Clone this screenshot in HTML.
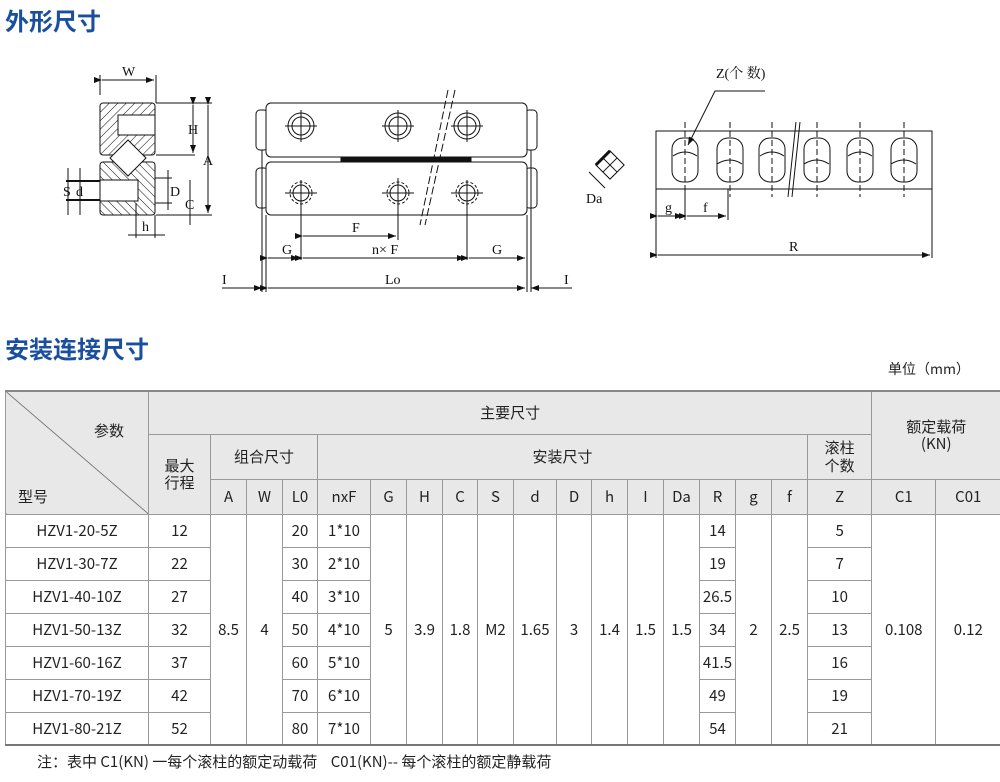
<!DOCTYPE html>
<html><head><meta charset="utf-8"><style>
body{margin:0;width:1000px;height:782px;background:#fff;position:relative;overflow:hidden;font-family:"Liberation Sans","Noto Sans CJK SC",sans-serif;color:#222}
.h{position:absolute;left:5px;color:#1a4fa0;font-weight:bold;font-size:24px;font-family:"Noto Sans CJK SC",sans-serif;line-height:1}
table{position:absolute;left:5px;top:390px;width:995px;border-collapse:collapse;table-layout:fixed;font-size:15px}
td{border:1px solid #999;text-align:center;padding:0;font-family:"Noto Sans CJK SC","Liberation Sans",sans-serif;line-height:1.15}
.g td,td.g{background:#e8e8e8}
table{border-top:2px solid #888;border-bottom:2px solid #777}
</style></head><body>
<div class="h" style="top:8px">外形尺寸</div>
<div class="h" style="top:336px">安装连接尺寸</div>
<div style="position:absolute;left:888px;top:359px;font-size:14px;font-family:'Noto Sans CJK SC',sans-serif">单位（mm）</div>

<svg style="position:absolute;left:0;top:0" width="1000" height="300" font-family="Liberation Serif,serif" font-size="14" stroke="#111" fill="none" stroke-width="1">
<defs><pattern id="ht" width="6" height="6" patternUnits="userSpaceOnUse" patternTransform="rotate(45)"><line x1="0" y1="0" x2="0" y2="6" stroke="#111" stroke-width="1"/></pattern>
<pattern id="ht2" width="6" height="6" patternUnits="userSpaceOnUse" patternTransform="rotate(-45)"><line x1="0" y1="0" x2="0" y2="6" stroke="#111" stroke-width="1"/></pattern>
<marker id="a" markerWidth="8" markerHeight="6" refX="8" refY="3" orient="auto"><path d="M0,0L8,3L0,6z" fill="#111" stroke="none"/></marker></defs>
<!-- left section -->
<rect x="100" y="103" width="55" height="52" rx="3" fill="url(#ht)"/>
<rect x="118" y="115" width="37" height="20" fill="#fff"/>
<rect x="100" y="162" width="55" height="53" rx="3" fill="url(#ht2)"/>
<rect x="100" y="180" width="38" height="21" fill="#fff"/>
<path d="M128,140L146,158L128,176L110,158Z" fill="#fff"/>
<line x1="100" y1="95" x2="100" y2="75"/><line x1="156" y1="103" x2="156" y2="75"/>
<line x1="102" y1="80" x2="154" y2="80" marker-start="url(#a)" marker-end="url(#a)"/>
<text x="122" y="76" fill="#111" stroke="none">W</text>
<line x1="156" y1="103" x2="212" y2="103"/><line x1="156" y1="155" x2="195" y2="155"/><line x1="156" y1="215" x2="212" y2="215"/>
<line x1="193" y1="105" x2="193" y2="153" marker-start="url(#a)" marker-end="url(#a)"/><text x="188" y="134" fill="#111" stroke="none">H</text>
<line x1="208" y1="105" x2="208" y2="213" marker-start="url(#a)" marker-end="url(#a)"/><text x="203" y="165" fill="#111" stroke="none">A</text>
<line x1="155" y1="178" x2="172" y2="178"/><line x1="155" y1="203" x2="172" y2="203"/>
<line x1="168" y1="170" x2="168" y2="210"/><text x="170" y="196" fill="#111" stroke="none">D</text>
<line x1="190" y1="180" x2="190" y2="225"/><text x="185" y="209" fill="#111" stroke="none">C</text>
<line x1="68" y1="168" x2="68" y2="215"/><line x1="80" y1="168" x2="80" y2="215"/>
<line x1="66" y1="181" x2="100" y2="181" stroke-width="2"/><line x1="66" y1="200" x2="100" y2="200" stroke-width="2"/>
<text x="63" y="196" fill="#111" stroke="none">S</text><text x="76" y="196" fill="#111" stroke="none">d</text>
<line x1="136" y1="203" x2="136" y2="238"/><line x1="155" y1="215" x2="155" y2="238"/>
<line x1="128" y1="235" x2="165" y2="235"/><text x="142" y="231" fill="#111" stroke="none">h</text>
<!-- middle -->
<rect x="256" y="110" width="12" height="40" rx="4"/><rect x="525" y="110" width="12" height="40" rx="4"/>
<rect x="266" y="103" width="261" height="54" rx="5" fill="#fff"/>
<rect x="256" y="168" width="12" height="40" rx="4"/><rect x="525" y="168" width="12" height="40" rx="4"/>
<rect x="266" y="162" width="261" height="53" rx="5" fill="#fff"/>
<rect x="341" y="157" width="130" height="5" fill="#111"/>
<g><circle cx="301" cy="126" r="13"/><circle cx="301" cy="126" r="9"/><circle cx="398" cy="126" r="13"/><circle cx="398" cy="126" r="9"/><circle cx="467" cy="126" r="13"/><circle cx="467" cy="126" r="9"/>
<circle cx="301" cy="193" r="11" stroke-dasharray="3 2"/><circle cx="301" cy="193" r="8"/><circle cx="398" cy="193" r="11" stroke-dasharray="3 2"/><circle cx="398" cy="193" r="8"/><circle cx="467" cy="193" r="11" stroke-dasharray="3 2"/><circle cx="467" cy="193" r="8"/>
<path d="M285,126h32M301,110v32M382,126h32M398,110v32M451,126h32M467,110v32M285,193h32M398,178v15M382,193h32M451,193h32"/></g>
<path d="M448,90L420,225M455,90L425,225" stroke-dasharray="8 3"/>
<line x1="301" y1="180" x2="301" y2="260"/><line x1="398" y1="180" x2="398" y2="240"/><line x1="467" y1="180" x2="467" y2="260"/>
<line x1="303" y1="236" x2="396" y2="236" marker-start="url(#a)" marker-end="url(#a)"/><text x="352" y="232" fill="#111" stroke="none">F</text>
<line x1="262" y1="150" x2="262" y2="292"/><line x1="266" y1="215" x2="266" y2="292"/><line x1="527" y1="215" x2="527" y2="292"/><line x1="531" y1="150" x2="531" y2="292"/>
<line x1="268" y1="258" x2="299" y2="258" marker-start="url(#a)" marker-end="url(#a)"/><text x="282" y="254" fill="#111" stroke="none">G</text>
<line x1="303" y1="258" x2="465" y2="258" marker-start="url(#a)" marker-end="url(#a)"/><text x="372" y="254" fill="#111" stroke="none">n× F</text>
<line x1="469" y1="258" x2="525" y2="258" marker-start="url(#a)" marker-end="url(#a)"/><text x="492" y="254" fill="#111" stroke="none">G</text>
<line x1="268" y1="288" x2="525" y2="288" marker-start="url(#a)" marker-end="url(#a)"/><text x="385" y="284" fill="#111" stroke="none">Lo</text>
<line x1="222" y1="288" x2="262" y2="288" marker-end="url(#a)"/><text x="222" y="284" fill="#111" stroke="none">I</text>
<line x1="572" y1="288" x2="531" y2="288" marker-end="url(#a)"/><text x="564" y="284" fill="#111" stroke="none">I</text>
<!-- right -->
<g transform="rotate(-45 610 165)"><rect x="600" y="155" width="20" height="20"/><path d="M600,165h20M610,155v20"/><line x1="600" y1="155" x2="620" y2="155" stroke-width="3"/></g>
<line x1="589" y1="172" x2="605" y2="188"/><text x="586" y="203" fill="#111" stroke="none">Da</text>
<rect x="656" y="131" width="276" height="58"/>
<g>
<rect x="672" y="138" width="26" height="44" rx="11"/><rect x="717" y="138" width="26" height="44" rx="11"/><rect x="759" y="138" width="26" height="44" rx="11"/>
<rect x="804" y="138" width="26" height="44" rx="11"/><rect x="847" y="138" width="26" height="44" rx="11"/><rect x="891" y="138" width="26" height="44" rx="11"/>
<path d="M673,156q12,-8 24,0M717,164q13,-8 25,0M760,156q12,-8 24,0M804,164q13,-8 25,0M848,156q12,-8 24,0M891,164q13,-8 25,0"/>
<path d="M685,122v75M730,122v75M772,122v75M817,122v75M860,122v75M904,122v75" stroke-dasharray="6 3"/>
<path d="M796,122L788,197M800,122L792,197" />
</g>
<text x="716" y="78" fill="#111" stroke="none" font-family="Liberation Serif,Noto Serif CJK SC,serif">Z(个 数)</text>
<path d="M765,91H715L688,145" marker-end="url(#a)"/>
<line x1="656" y1="189" x2="656" y2="258"/><line x1="685" y1="189" x2="685" y2="220"/><line x1="728" y1="189" x2="728" y2="220"/><line x1="932" y1="189" x2="932" y2="258"/>
<line x1="658" y1="216" x2="683" y2="216" marker-start="url(#a)" marker-end="url(#a)"/><text x="665" y="212" fill="#111" stroke="none">g</text>
<line x1="687" y1="216" x2="726" y2="216" marker-start="url(#a)" marker-end="url(#a)"/><text x="703" y="212" fill="#111" stroke="none">f</text>
<line x1="658" y1="255" x2="930" y2="255" marker-start="url(#a)" marker-end="url(#a)"/><text x="789" y="251" fill="#111" stroke="none">R</text>
</svg>

<table>
<colgroup><col style="width:143px"><col style="width:62px"><col style="width:36px"><col style="width:36px"><col style="width:35px"><col style="width:53px"><col style="width:36px"><col style="width:36px"><col style="width:35px"><col style="width:36px"><col style="width:43px"><col style="width:35px"><col style="width:36px"><col style="width:36px"><col style="width:36px"><col style="width:36px"><col style="width:36px"><col style="width:36px"><col style="width:64px"><col style="width:64px"><col style="width:65px"></colgroup>
<tr class="g" style="height:43px"><td rowspan="3" style="position:relative;background:#e8e8e8 linear-gradient(to bottom left,transparent calc(50% - 0.7px),#555 50%,transparent calc(50% + 0.7px))"><span style="position:absolute;left:88px;top:30px">参数</span><span style="position:absolute;left:12px;top:96px">型号</span></td>
<td colspan="18">主要尺寸</td><td colspan="2" rowspan="2">额定载荷<br>(KN)</td></tr>
<tr class="g" style="height:45px"><td rowspan="2">最大<br>行程</td><td colspan="3">组合尺寸</td><td colspan="13">安装尺寸</td><td>滚柱<br>个数</td></tr>
<tr class="g" style="height:35px"><td>A</td><td>W</td><td>L0</td><td>nxF</td><td>G</td><td>H</td><td>C</td><td>S</td><td>d</td><td>D</td><td>h</td><td>I</td><td>Da</td><td>R</td><td>g</td><td>f</td><td>Z</td><td>C1</td><td>C01</td></tr>
<tr style="height:33px"><td>HZV1-20-5Z</td><td>12</td><td rowspan="7">8.5</td><td rowspan="7">4</td><td>20</td><td>1*10</td><td rowspan="7">5</td><td rowspan="7">3.9</td><td rowspan="7">1.8</td><td rowspan="7">M2</td><td rowspan="7">1.65</td><td rowspan="7">3</td><td rowspan="7">1.4</td><td rowspan="7">1.5</td><td rowspan="7">1.5</td><td>14</td><td rowspan="7">2</td><td rowspan="7">2.5</td><td>5</td><td rowspan="7">0.108</td><td rowspan="7">0.12</td></tr>
<tr style="height:33px"><td>HZV1-30-7Z</td><td>22</td><td>30</td><td>2*10</td><td>19</td><td>7</td></tr>
<tr style="height:33px"><td>HZV1-40-10Z</td><td>27</td><td>40</td><td>3*10</td><td>26.5</td><td>10</td></tr>
<tr style="height:33px"><td>HZV1-50-13Z</td><td>32</td><td>50</td><td>4*10</td><td>34</td><td>13</td></tr>
<tr style="height:33px"><td>HZV1-60-16Z</td><td>37</td><td>60</td><td>5*10</td><td>41.5</td><td>16</td></tr>
<tr style="height:33px"><td>HZV1-70-19Z</td><td>42</td><td>70</td><td>6*10</td><td>49</td><td>19</td></tr>
<tr style="height:33px"><td>HZV1-80-21Z</td><td>52</td><td>80</td><td>7*10</td><td>54</td><td>21</td></tr>
</table>
<div style="position:absolute;left:37px;top:751px;font-size:15px;font-family:'Noto Sans CJK SC',sans-serif;white-space:pre">注：表中 C1(KN) 一每个滚柱的额定动载荷    C01(KN)-- 每个滚柱的额定静载荷</div>
</body></html>
